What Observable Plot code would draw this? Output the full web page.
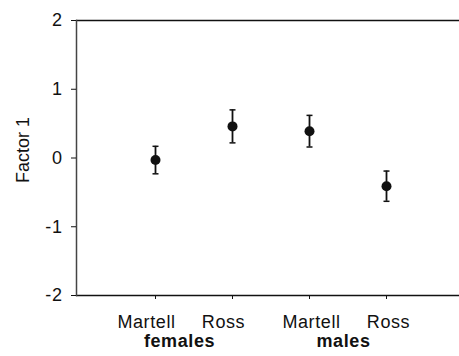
<!DOCTYPE html>
<html>
<head>
<meta charset="utf-8">
<script src="https://cdn.jsdelivr.net/npm/d3@7"></script>
<script src="https://cdn.jsdelivr.net/npm/@observablehq/plot@0.6"></script>
<style>
  html, body { margin: 0; padding: 0; background: #fff; }
  svg text[transform*="rotate"] { letter-spacing: 0px; }
</style>
</head>
<body>
<div id="chart"></div>
<script>
const sexes = ["females", "females", "males", "males"];
const sites = ["Martell", "Ross", "Martell", "Ross"];
const means = [-0.03, 0.46, 0.39, -0.41];
const errs = [0.20, 0.24, 0.23, 0.22];
const yTicks = [-2, -1, 0, 1, 2];
const yLabel = "Factor 1";

const rows = sexes.map((s, i) => ({
  key: s + " " + sites[i],
  sex: s,
  site: sites[i],
  mean: means[i],
  lo: means[i] - errs[i],
  hi: means[i] + errs[i]
}));
const keys = rows.map(d => d.key);
const groupFirst = rows.filter((d, i) => i === 0 || rows[i - 1].sex !== d.sex);

const ink = "#111";
const font = "'Liberation Sans', Arial, sans-serif";

// horizontal cap symbol for error bars (half-width = r)
const capSymbol = {
  draw(context, size) {
    const w = Math.sqrt(size / Math.PI);
    context.moveTo(-w, 0);
    context.lineTo(w, 0);
  }
};

const chart = Plot.plot({
  width: 459,
  height: 356,
  marginLeft: 76,
  marginRight: 0,
  marginTop: 20,
  marginBottom: 61,
  style: { fontFamily: font, fontSize: "18px", letterSpacing: "0.6px", color: ink, background: "#fff" },
  x: { type: "point", domain: keys, padding: 0.964, align: 0.52 },
  y: { domain: [d3.min(yTicks), d3.max(yTicks)] },
  marks: [
    Plot.ruleY([d3.min(yTicks), d3.max(yTicks)], { stroke: ink, strokeWidth: 1.3 }),
    Plot.frame({ anchor: "left", stroke: "#444", strokeWidth: 1.5 }),
    Plot.axisY({ ticks: yTicks, tickSize: 5, tickPadding: 9, tickFormat: d => String(d), label: null, fontSize: 18, stroke: ink, fill: ink }),
    Plot.axisX({ tickSize: 4, tickFormat: () => "", label: null, stroke: ink }),
    Plot.text([yLabel], { frameAnchor: "left", dx: -53, dy: 25, rotate: -90, fontSize: 18, fill: ink }),
    Plot.text(rows.filter(d => d.sex === "females"), { x: "key", text: "site", frameAnchor: "bottom", dy: 32, dx: -9, fontSize: 18, fill: ink }),
    Plot.text(rows.filter(d => d.sex === "males"), { x: "key", text: "site", frameAnchor: "bottom", dy: 32, dx: 2, fontSize: 18, fill: ink }),
    Plot.text(groupFirst.filter(d => d.sex === "females"), { x: "key", text: "sex", frameAnchor: "bottom", dy: 51, dx: 24, fontSize: 18, fontWeight: "bold", fill: ink }),
    Plot.text(groupFirst.filter(d => d.sex === "males"), { x: "key", text: "sex", frameAnchor: "bottom", dy: 51, dx: 34, fontSize: 18, fontWeight: "bold", fill: ink }),
    Plot.ruleX(rows, { x: "key", y1: "lo", y2: "hi", stroke: ink, strokeWidth: 1.8 }),
    Plot.dot(rows, { x: "key", y: "lo", r: 3, symbol: capSymbol, stroke: ink, fill: "none", strokeWidth: 1.5 }),
    Plot.dot(rows, { x: "key", y: "hi", r: 3, symbol: capSymbol, stroke: ink, fill: "none", strokeWidth: 1.5 }),
    Plot.dot(rows, { x: "key", y: "mean", r: 5, fill: ink, stroke: "none" })
  ]
});
document.getElementById("chart").appendChild(chart);
</script>
</body>
</html>
